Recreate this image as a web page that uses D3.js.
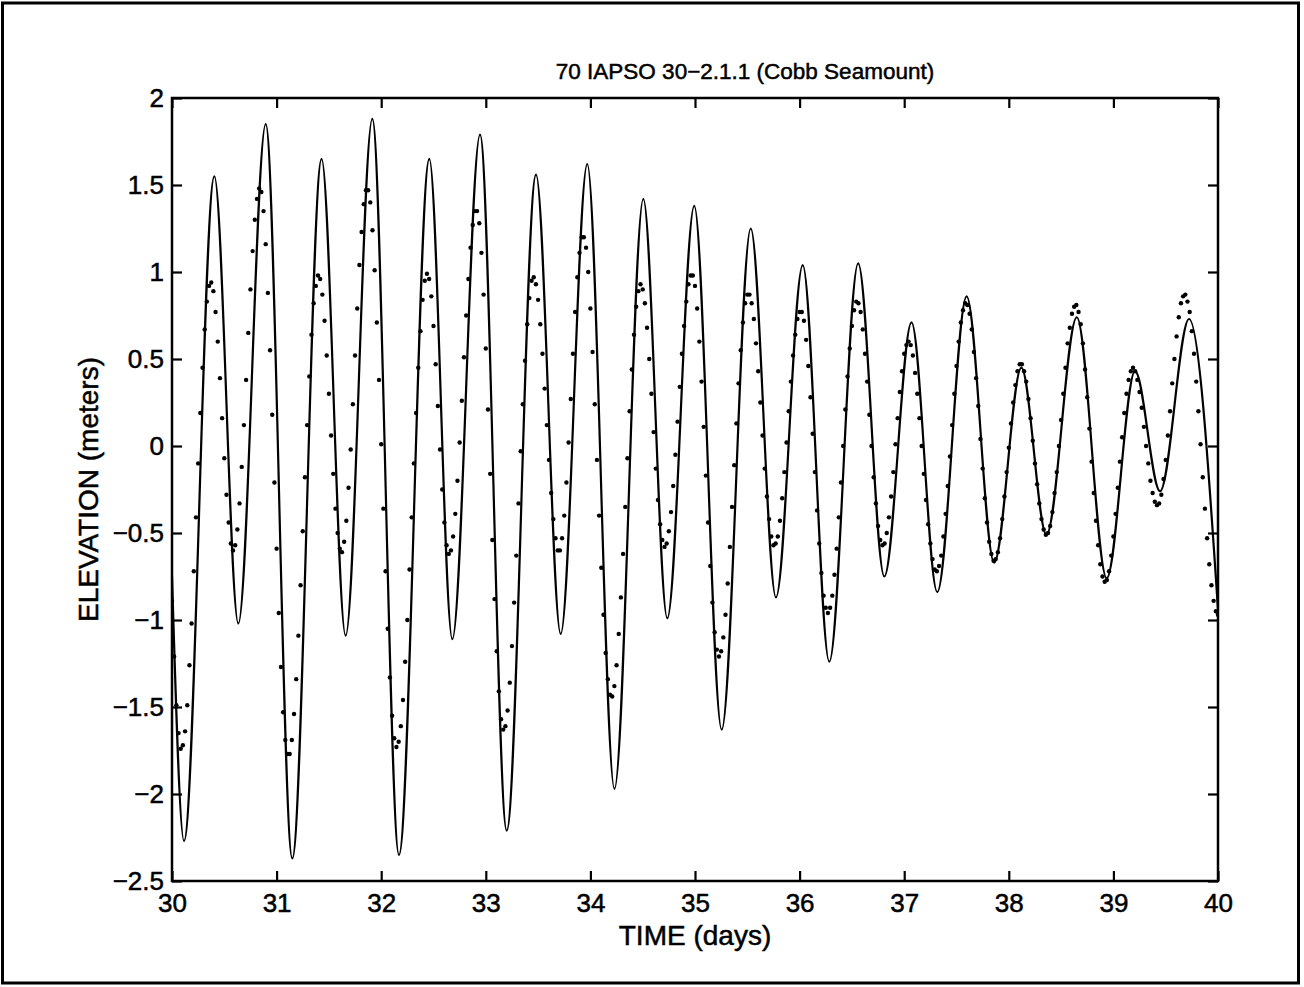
<!DOCTYPE html>
<html>
<head>
<meta charset="utf-8">
<script src="https://cdn.jsdelivr.net/npm/d3@7"></script>
<style>
  body { margin: 0; background: #fff; }
  svg { display: block; }
</style>
</head>
<body>
<div id="chart"></div>
<script>
// model tide curve, turning points (days, meters)
const modelDays = [30.0, 30.115, 30.405, 30.634, 30.896, 31.15, 31.43, 31.66, 31.915, 32.17,
  32.46, 32.68, 32.945, 33.2, 33.48, 33.716, 33.97, 34.23, 34.506, 34.735,
  34.993, 35.255, 35.533, 35.774, 36.03, 36.284, 36.56, 36.81, 37.07, 37.316,
  37.597, 37.86, 38.12, 38.36, 38.65, 38.936, 39.207, 39.446, 39.723, 40.0];
const modelElev = [-0.75, -2.27, 1.55, -1.02, 1.85, -2.37, 1.65, -1.09, 1.88, -2.35,
  1.65, -1.11, 1.79, -2.21, 1.56, -1.08, 1.62, -1.97, 1.42, -0.99,
  1.38, -1.63, 1.25, -0.87, 1.04, -1.24, 1.05, -0.75, 0.71, -0.84,
  0.86, -0.67, 0.45, -0.51, 0.74, -0.76, 0.43, -0.26, 0.73, -0.94];

// observed elevations, one every half hour starting at day 30
const obsStart = 30;
const obsStep = 1 / 48;
const obsElev = [
  // day 30
  -0.89, -1.21, -1.49, -1.65, -1.74, -1.72, -1.64, -1.49, -1.26, -1.02, -0.72, -0.41,
  -0.10, 0.19, 0.45, 0.67, 0.83, 0.92, 0.94, 0.89, 0.77, 0.60, 0.39, 0.16,
  -0.07, -0.28, -0.44, -0.56, -0.60, -0.57, -0.48, -0.33, -0.12, 0.12, 0.38, 0.65,
  0.90, 1.12, 1.30, 1.42, 1.48, 1.46, 1.35, 1.16, 0.88, 0.55, 0.18, -0.21,
  // day 31
  -0.59, -0.96, -1.27, -1.53, -1.69, -1.77, -1.77, -1.69, -1.54, -1.34, -1.09, -0.80,
  -0.49, -0.18, 0.12, 0.40, 0.64, 0.82, 0.92, 0.98, 0.96, 0.87, 0.72, 0.52,
  0.30, 0.06, -0.16, -0.36, -0.50, -0.59, -0.61, -0.55, -0.43, -0.24, -0.02, 0.24,
  0.52, 0.79, 1.04, 1.23, 1.39, 1.47, 1.47, 1.40, 1.24, 1.01, 0.71, 0.38,
  // day 32
  0.01, -0.36, -0.72, -1.05, -1.33, -1.55, -1.68, -1.73, -1.70, -1.61, -1.46, -1.24,
  -1.00, -0.71, -0.41, -0.10, 0.19, 0.45, 0.66, 0.84, 0.95, 0.99, 0.96, 0.86,
  0.69, 0.47, 0.23, -0.02, -0.25, -0.44, -0.57, -0.62, -0.60, -0.52, -0.39, -0.20,
  0.02, 0.26, 0.51, 0.75, 0.96, 1.14, 1.27, 1.35, 1.35, 1.28, 1.11, 0.87,
  // day 33
  0.56, 0.21, -0.16, -0.54, -0.88, -1.18, -1.41, -1.57, -1.63, -1.61, -1.52, -1.36,
  -1.15, -0.90, -0.63, -0.33, -0.03, 0.24, 0.49, 0.70, 0.85, 0.95, 0.97, 0.93,
  0.84, 0.70, 0.53, 0.33, 0.12, -0.08, -0.27, -0.42, -0.53, -0.60, -0.60, -0.53,
  -0.40, -0.21, 0.02, 0.27, 0.53, 0.77, 0.97, 1.11, 1.20, 1.20, 1.14, 1.00,
  // day 34
  0.79, 0.54, 0.24, -0.08, -0.40, -0.70, -0.97, -1.19, -1.34, -1.43, -1.44, -1.38,
  -1.26, -1.08, -0.87, -0.62, -0.35, -0.07, 0.20, 0.44, 0.64, 0.80, 0.89, 0.93,
  0.90, 0.82, 0.68, 0.50, 0.30, 0.08, -0.13, -0.31, -0.45, -0.54, -0.58, -0.56,
  -0.49, -0.38, -0.23, -0.05, 0.14, 0.34, 0.53, 0.69, 0.83, 0.93, 0.98, 0.98,
  // day 35
  0.92, 0.79, 0.60, 0.37, 0.11, -0.17, -0.44, -0.69, -0.90, -1.07, -1.17, -1.21,
  -1.18, -1.10, -0.97, -0.79, -0.58, -0.35, -0.11, 0.13, 0.36, 0.55, 0.71, 0.82,
  0.87, 0.87, 0.82, 0.73, 0.59, 0.43, 0.25, 0.06, -0.13, -0.29, -0.42, -0.52,
  -0.57, -0.56, -0.52, -0.43, -0.30, -0.15, 0.02, 0.20, 0.37, 0.52, 0.64, 0.73,
  // day 36
  0.77, 0.77, 0.72, 0.61, 0.46, 0.28, 0.07, -0.15, -0.37, -0.56, -0.73, -0.86,
  -0.93, -0.96, -0.93, -0.86, -0.74, -0.59, -0.41, -0.21, 0.00, 0.21, 0.40, 0.56,
  0.69, 0.78, 0.83, 0.82, 0.77, 0.67, 0.53, 0.37, 0.18, 0.00, -0.18, -0.33,
  -0.46, -0.54, -0.57, -0.56, -0.50, -0.41, -0.29, -0.15, 0.01, 0.16, 0.31, 0.43,
  // day 37
  0.53, 0.58, 0.60, 0.58, 0.52, 0.42, 0.30, 0.16, 0.00, -0.16, -0.31, -0.45,
  -0.56, -0.65, -0.71, -0.72, -0.69, -0.63, -0.52, -0.39, -0.23, -0.06, 0.12, 0.30,
  0.46, 0.60, 0.71, 0.78, 0.82, 0.81, 0.76, 0.67, 0.54, 0.39, 0.23, 0.04,
  -0.13, -0.30, -0.44, -0.55, -0.62, -0.66, -0.65, -0.61, -0.53, -0.42, -0.29, -0.15,
  // day 38
  -0.01, 0.13, 0.25, 0.35, 0.43, 0.47, 0.47, 0.43, 0.37, 0.27, 0.16, 0.03,
  -0.10, -0.22, -0.33, -0.42, -0.48, -0.51, -0.50, -0.46, -0.38, -0.27, -0.15, 0.00,
  0.15, 0.30, 0.45, 0.59, 0.68, 0.76, 0.80, 0.81, 0.77, 0.70, 0.59, 0.44,
  0.28, 0.10, -0.09, -0.27, -0.43, -0.57, -0.68, -0.75, -0.78, -0.77, -0.72, -0.63,
  // day 39
  -0.52, -0.39, -0.24, -0.09, 0.05, 0.19, 0.30, 0.38, 0.43, 0.45, 0.43, 0.38,
  0.31, 0.22, 0.11, 0.00, -0.10, -0.20, -0.27, -0.32, -0.34, -0.33, -0.28, -0.19,
  -0.08, 0.06, 0.20, 0.36, 0.50, 0.63, 0.74, 0.82, 0.86, 0.87, 0.83, 0.77,
  0.66, 0.53, 0.37, 0.20, 0.01, -0.18, -0.36, -0.53, -0.68, -0.80, -0.89, -0.95,
  // day 40
  -0.97
];

const xTicks = [30, 31, 32, 33, 34, 35, 36, 37, 38, 39, 40];
const yTicks = [2, 1.5, 1, 0.5, 0, -0.5, -1, -1.5, -2, -2.5];

const titleText = "70 IAPSO 30\u22122.1.1 (Cobb Seamount)";
const xLabel = "TIME (days)";
const yLabel = "ELEVATION (meters)";

const W = 1304, H = 987;
const margin = { top: 98, right: 86, bottom: 106, left: 172 };
const width = W - margin.left - margin.right;
const height = H - margin.top - margin.bottom;
const font = "'Liberation Sans', Arial, Helvetica, sans-serif";

const svg = d3.select("#chart").append("svg")
  .attr("width", W)
  .attr("height", H);

// outer frame of the figure
svg.append("rect")
  .attr("x", 2.5).attr("y", 3)
  .attr("width", 1296).attr("height", 980)
  .attr("fill", "none")
  .attr("stroke", "#000")
  .attr("stroke-width", 3);

const g = svg.append("g")
  .attr("transform", `translate(${margin.left},${margin.top})`);

const x = d3.scaleLinear().domain([30, 40]).range([0, width]);
const y = d3.scaleLinear().domain([-2.5, 2]).range([height, 0]);

const fmt = d3.format("~g");

// scanned print looks heavy, so text gets a hairline stroke
function inkText(sel, size) {
  sel.attr("fill", "#000")
    .attr("stroke", "#000")
    .attr("stroke-width", 0.5)
    .style("font-family", font)
    .style("font-size", size + "px");
}

function styleAxis(sel) {
  sel.select(".domain").remove();
  sel.selectAll(".tick line").attr("stroke", "#000").attr("stroke-width", 2.2);
  sel.selectAll(".tick text").call(inkText, 26);
}

g.append("g")
  .attr("transform", `translate(0,${height})`)
  .call(d3.axisBottom(x).tickValues(xTicks).tickFormat(fmt).tickSize(-10).tickPadding(13))
  .call(styleAxis);

g.append("g")
  .call(d3.axisTop(x).tickValues(xTicks).tickFormat("").tickSize(-10))
  .call(styleAxis);

g.append("g")
  .call(d3.axisLeft(y).tickValues(yTicks).tickFormat(fmt).tickSize(-10).tickPadding(8))
  .call(styleAxis);

g.append("g")
  .attr("transform", `translate(${width},0)`)
  .call(d3.axisRight(y).tickValues(yTicks).tickFormat("").tickSize(-10))
  .call(styleAxis);

// plot box
g.append("rect")
  .attr("width", width)
  .attr("height", height)
  .attr("fill", "none")
  .attr("stroke", "#000")
  .attr("stroke-width", 2.5);

g.append("defs").append("clipPath")
  .attr("id", "plot-clip")
  .append("rect")
  .attr("width", width)
  .attr("height", height);

const plot = g.append("g").attr("clip-path", "url(#plot-clip)");

const model = modelDays.map((d, i) => ({ day: d, elev: modelElev[i] }));
const obs = obsElev.map((v, i) => ({ day: obsStart + i * obsStep, elev: v }));

const line = d3.line()
  .x(d => x(d.day))
  .y(d => y(d.elev))
  .curve(d3.curveMonotoneX);

plot.append("path")
  .datum(model)
  .attr("d", line)
  .attr("fill", "none")
  .attr("stroke", "#000")
  .attr("stroke-width", 2.2);

plot.selectAll(".obs")
  .data(obs)
  .enter()
  .append("circle")
  .attr("class", "obs")
  .attr("cx", d => x(d.day))
  .attr("cy", d => y(d.elev))
  .attr("r", 2.2)
  .attr("fill", "#000");

g.append("text")
  .attr("x", width / 2 + 50)
  .attr("y", -19)
  .attr("text-anchor", "middle")
  .call(inkText, 22.5)
  .text(titleText);

g.append("text")
  .attr("x", width / 2)
  .attr("y", height + 64)
  .attr("text-anchor", "middle")
  .call(inkText, 28)
  .text(xLabel);

g.append("text")
  .attr("transform", "rotate(-90)")
  .attr("x", -height / 2)
  .attr("y", -74)
  .attr("text-anchor", "middle")
  .call(inkText, 28)
  .text(yLabel);
</script>
</body>
</html>
